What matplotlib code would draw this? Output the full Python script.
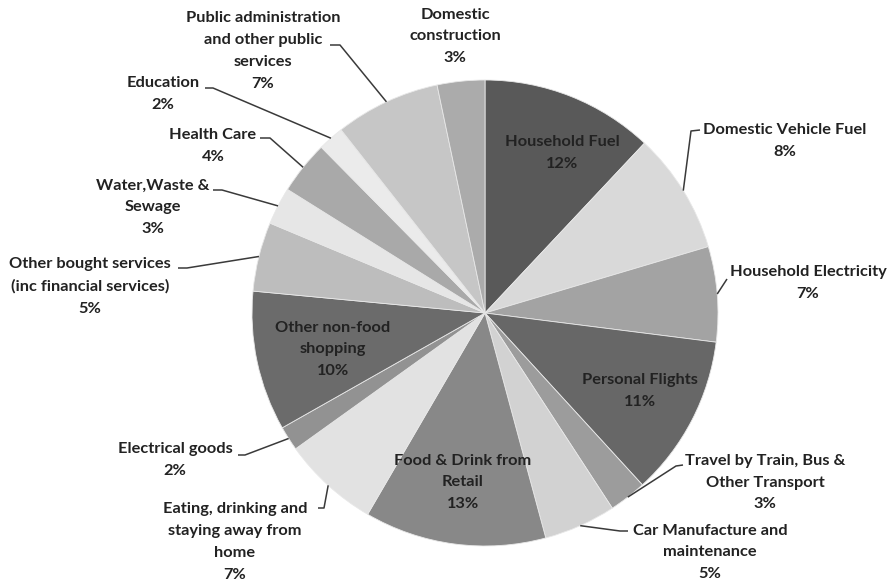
import numpy as np
import matplotlib
matplotlib.use("Agg")
import matplotlib.pyplot as plt

# ---- data ----
categories = [
    "Household Fuel", "Domestic Vehicle Fuel", "Household Electricity",
    "Personal Flights", "Travel by Train, Bus &\nOther Transport",
    "Car Manufacture and\nmaintenance", "Food & Drink from\nRetail",
    "Eating, drinking and\nstaying away from\nhome", "Electrical goods",
    "Other non-food\nshopping", "Other bought services\n(inc financial services)",
    "Water,Waste &\nSewage", "Health Care", "Education",
    "Public administration\nand other public\nservices", "Domestic\nconstruction",
]
shares = [12.0, 8.4, 6.6, 11.2, 2.6, 5.0, 12.6, 6.7, 1.7, 9.7, 4.8, 2.6, 3.7, 1.8, 7.3, 3.3]

# ---- style / layout ----
colors = ["#595959", "#d9d9d9", "#a3a3a3", "#676767", "#9c9c9c", "#d2d2d2",
          "#888888", "#e2e2e2", "#929292", "#6b6b6b", "#bdbdbd", "#e6e6e6",
          "#a9a9a9", "#ebebeb", "#c6c6c6", "#ababab"]
H = 583
CX, CY, R = 485, H - 313, 233
# (center x, first-line y) in pixel coords (y from top)
label_pos = [(562, 142), (785, 130), (808, 272), (640, 380), (765, 460),
             (710, 530), (463, 460), (235, 508), (175, 449), (333, 327),
             (90, 264), (153, 185), (213, 135), (163, 83), (263, 17), (455, 14)]
leaders = {1: [(700, 130), (691, 131)], 2: [(727, 279)], 4: [(683, 465), (676, 466)],
           5: [(628, 531), (620, 531)], 7: [(318, 508), (324, 508)],
           8: [(238, 455), (245, 455)], 10: [(178, 268), (187, 268)],
           11: [(213, 190), (222, 190)], 12: [(260, 138), (270, 138)],
           13: [(205, 88), (213, 88)], 14: [(330, 45), (340, 45)]}
LINE = 22.5

fig = plt.figure(figsize=(8.94, 5.83), dpi=100)
ax = fig.add_axes([0, 0, 1, 1])

wedges, _ = ax.pie(shares, colors=colors, startangle=90, counterclock=False,
                   center=(CX, CY), radius=R,
                   wedgeprops=dict(edgecolor="#e8e8e8", linewidth=0.6))
ax.set_xlim(0, 894)
ax.set_ylim(0, H)
ax.set_aspect("equal")
ax.axis("off")

for i, (w, name, v) in enumerate(zip(wedges, categories, shares)):
    txt = f"{name}\n{v:.0f}%"
    n = txt.count("\n") + 1
    x, y1 = label_pos[i]
    yc = y1 + (n - 1) * LINE / 2
    ax.text(x, H - yc, txt, ha="center", va="center", multialignment="center",
            fontsize=11.8, fontweight="bold", family=["Lato", "DejaVu Sans"],
            color="#222222", linespacing=1.72)
    if i in leaders:
        ang = np.deg2rad((w.theta1 + w.theta2) / 2)
        ex, ey = CX + R * np.cos(ang), CY + R * np.sin(ang)
        pts = [(px, H - py) for px, py in leaders[i]] + [(ex, ey)]
        xs, ys = zip(*pts)
        ax.plot(xs, ys, color="#3a3a3a", lw=1.1, solid_capstyle="butt")

fig.savefig("out.png", dpi=100)
